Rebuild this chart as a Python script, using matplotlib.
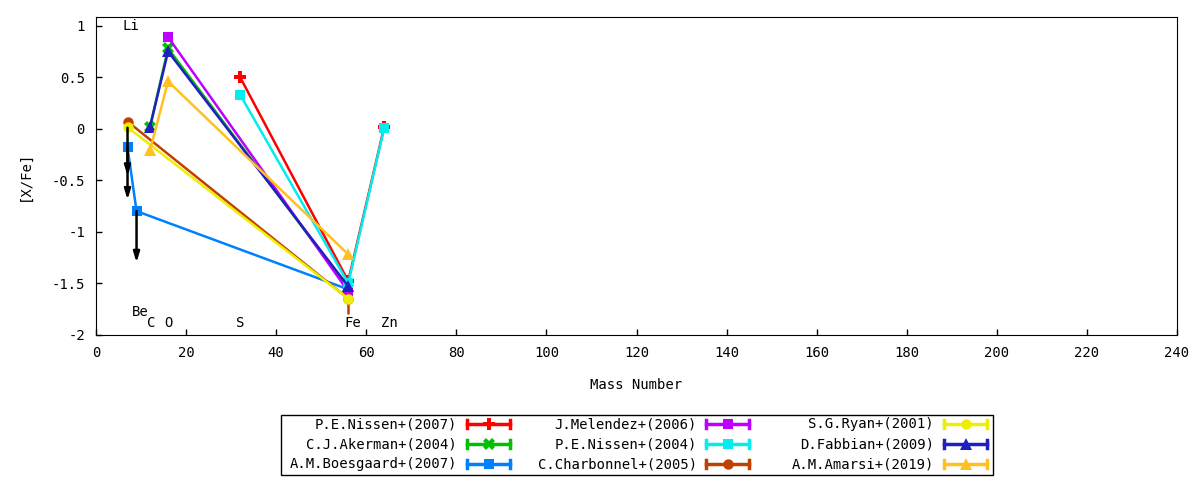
import numpy as np
import matplotlib.pyplot as plt
from matplotlib.patches import Rectangle

plt.rcParams['font.family'] = ['DejaVu Sans Mono']
plt.rcParams['font.size'] = 9.5

# data: mass number vs [X/Fe]
names = ["P.E.Nissen+(2007)", "C.J.Akerman+(2004)", "A.M.Boesgaard+(2007)",
         "J.Melendez+(2006)", "P.E.Nissen+(2004)", "C.Charbonnel+(2005)",
         "S.G.Ryan+(2001)", "D.Fabbian+(2009)", "A.M.Amarsi+(2019)"]
colors = ["#ff0000", "#00c000", "#0080ff", "#c000ff", "#00eeee",
          "#c04000", "#eeee00", "#2020c0", "#ffc020"]
markers = ["P", "X", "s", "s", "s", "o", "o", "^", "^"]

nissen07_x = [32, 56, 64]
nissen07_y = [0.50, -1.48, 0.02]
nissen07_e = [0, 0, 0.05]
akerman04_x = [12, 16, 56]
akerman04_y = [0.02, 0.78, -1.55]
akerman04_e = [0, 0, 0]
boesgaard07_x = [7, 9, 56]
boesgaard07_y = [-0.18, -0.80, -1.56]
boesgaard07_e = [0, 0, 0]
melendez06_x = [16, 56]
melendez06_y = [0.89, -1.58]
melendez06_e = [0, 0]
nissen04_x = [32, 56, 64]
nissen04_y = [0.33, -1.50, 0.01]
nissen04_e = [0, 0, 0]
charbonnel05_x = [7, 56]
charbonnel05_y = [0.07, -1.65]
charbonnel05_e = [0, 0.15]
ryan01_x = [7, 56]
ryan01_y = [0.015, -1.65]
ryan01_e = [0, 0]
fabbian09_x = [12, 16, 56]
fabbian09_y = [0.02, 0.75, -1.53]
fabbian09_e = [0, 0, 0]
amarsi19_x = [12, 16, 56]
amarsi19_y = [-0.21, 0.46, -1.22]
amarsi19_e = [0, 0, 0]

xs = [nissen07_x, akerman04_x, boesgaard07_x, melendez06_x, nissen04_x,
      charbonnel05_x, ryan01_x, fabbian09_x, amarsi19_x]
ys = [nissen07_y, akerman04_y, boesgaard07_y, melendez06_y, nissen04_y,
      charbonnel05_y, ryan01_y, fabbian09_y, amarsi19_y]
es = [nissen07_e, akerman04_e, boesgaard07_e, melendez06_e, nissen04_e,
      charbonnel05_e, ryan01_e, fabbian09_e, amarsi19_e]

# upper limits (arrows)
lim_x = [7, 7, 9]
lim_from = [0.01, -0.18, -0.80]
lim_to = [-0.46, -0.69, -1.30]

# element labels
elem = ["Li", "Be", "C", "O", "S", "Fe", "Zn"]
elem_x = [7.8, 9.8, 12.2, 16, 32, 57.1, 65.1]
elem_y = [1.0, -1.78, -1.89, -1.89, -1.89, -1.89, -1.89]

msize = {"P": 8, "X": 8, "s": 7.5, "o": 7.5, "^": 8.5}

fig = plt.figure(figsize=(12, 4.8), dpi=100)
ax = fig.add_axes([96/1200, 1-334.7/480, (1177-96)/1200, (334.7-17)/480])

for x, y, e, c, m in zip(xs, ys, es, colors, markers):
    ax.errorbar(x, y, yerr=e, color=c, marker=m, markersize=msize[m], lw=1.8,
                elinewidth=1.8, capsize=3, markeredgewidth=0)

for x, y0, y1 in zip(lim_x, lim_from, lim_to):
    ax.annotate("", xy=(x, y1), xytext=(x, y0),
                arrowprops=dict(arrowstyle="-|>,head_length=1.0,head_width=0.3",
                                color="black", lw=1.8,
                                mutation_scale=6, shrinkA=0, shrinkB=0))

for t, x, y in zip(elem, elem_x, elem_y):
    ax.text(x, y, t, ha="center", va="center", fontsize=10)

ax.set_xlim(0, 240)
ax.set_ylim(-2, 1.085)
ax.set_xticks(np.arange(0, 241, 20))
ax.set_yticks([-2, -1.5, -1, -0.5, 0, 0.5, 1])
ax.set_yticklabels(["-2", "-1.5", "-1", "-0.5", "0", "0.5", "1"])
ax.tick_params(direction="in", length=4, width=1, pad=8, labelsize=10)
ax.set_xlabel("Mass Number", fontsize=10, labelpad=13)
ax.set_ylabel("[X/Fe]", fontsize=10, labelpad=14)

# legend drawn by hand in pixel coordinates
lax = fig.add_axes([0, 0, 1, 1], zorder=-1)
lax.set_xlim(0, 1200)
lax.set_ylim(480, 0)
lax.axis("off")
lax.add_patch(Rectangle((281, 415), 712, 60, fill=False, ec="black", lw=1))
col_text = [457, 697, 934]
col_line = [(467, 510), (706, 749), (944, 987)]
row_y = [424, 444, 464]
for i, (n, c, m) in enumerate(zip(names, colors, markers)):
    col, row = i // 3, i % 3
    yy = row_y[row]
    lax.text(col_text[col], yy, n, ha="right", va="center", fontsize=10)
    x0, x1 = col_line[col]
    lax.plot([x0, x1], [yy, yy], color=c, lw=2.5)
    lax.plot([x0, x0], [yy-4, yy+4], color=c, lw=2.5)
    lax.plot([x1, x1], [yy-4, yy+4], color=c, lw=2.5)
    lax.plot([(x0+x1)/2], [yy], color=c, marker=m, markersize=msize[m],
             markeredgewidth=0)

fig.savefig("out.png", dpi=100)
